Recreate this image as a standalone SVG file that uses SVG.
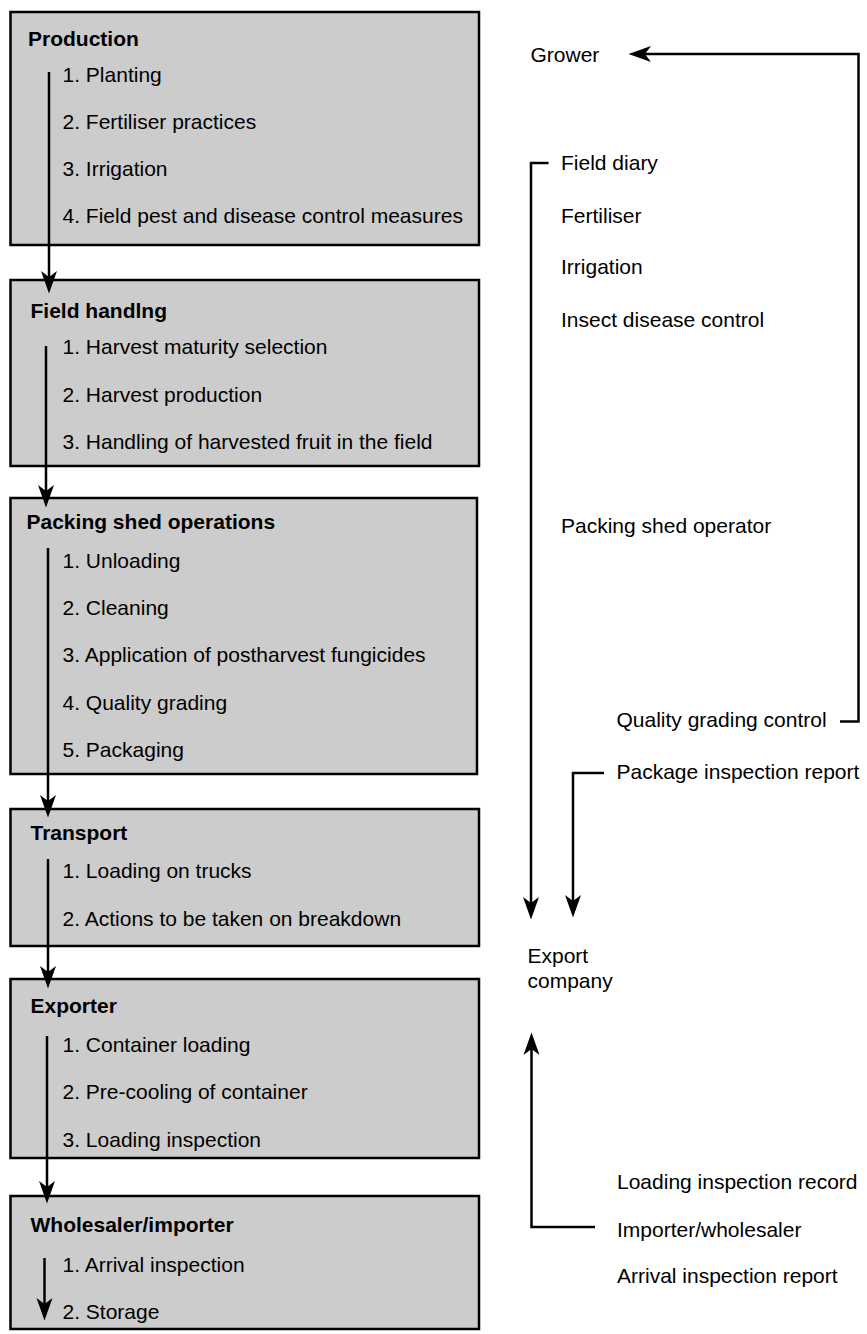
<svg xmlns="http://www.w3.org/2000/svg" width="867" height="1334" viewBox="0 0 867 1334">
  <style>
    .box { fill: #cccccc; stroke: #000000; stroke-width: 2.5; }
    .title { font-family: "Liberation Sans", Arial, Helvetica, sans-serif; font-size: 21px; font-weight: bold; fill: #000000; }
    .item { font-family: "Liberation Sans", Arial, Helvetica, sans-serif; font-size: 21px; fill: #000000; }
    .flow { fill: none; stroke: #000000; stroke-width: 2.5; stroke-linejoin: miter; }
  </style>
  <defs>
    <marker id="head" markerUnits="userSpaceOnUse" markerWidth="23" markerHeight="17" viewBox="0 0 23 17" refX="7" refY="8.5" orient="auto">
      <path d="M0,0.5 L22.5,8.5 L0,16.5 L6,8.5 Z" fill="#000000"/>
    </marker>
  </defs>

  <rect width="867" height="1334" fill="#ffffff"/>

  <!-- stage boxes -->
  <g id="production">
    <rect class="box" x="10.5" y="12" width="468.5" height="233"/>
    <text class="title" x="28" y="45.5">Production</text>
    <text class="item" x="62.5" y="81.5">1. Planting</text>
    <text class="item" x="62.5" y="128.5">2. Fertiliser practices</text>
    <text class="item" x="62.5" y="175.5">3. Irrigation</text>
    <text class="item" x="62.5" y="222.5">4. Field pest and disease control measures</text>
  </g>

  <g id="field-handling">
    <rect class="box" x="10.5" y="280" width="468.5" height="186"/>
    <text class="title" x="30.5" y="318">Field handlng</text>
    <text class="item" x="62.5" y="354">1. Harvest maturity selection</text>
    <text class="item" x="62.5" y="401.5">2. Harvest production</text>
    <text class="item" x="62.5" y="448.5">3. Handling of harvested fruit in the field</text>
  </g>

  <g id="packing-shed">
    <rect class="box" x="10.5" y="498" width="466.5" height="276"/>
    <text class="title" x="26.5" y="529">Packing shed operations</text>
    <text class="item" x="62.5" y="567.5">1. Unloading</text>
    <text class="item" x="62.5" y="614.5">2. Cleaning</text>
    <text class="item" x="62.5" y="662">3. Application of postharvest fungicides</text>
    <text class="item" x="62.5" y="709.5">4. Quality grading</text>
    <text class="item" x="62.5" y="757">5. Packaging</text>
  </g>

  <g id="transport">
    <rect class="box" x="10.5" y="809" width="468.5" height="137"/>
    <text class="title" x="30.5" y="840">Transport</text>
    <text class="item" x="62.5" y="878">1. Loading on trucks</text>
    <text class="item" x="62.5" y="925.5">2. Actions to be taken on breakdown</text>
  </g>

  <g id="exporter">
    <rect class="box" x="10.5" y="979" width="468.5" height="179"/>
    <text class="title" x="30.5" y="1013">Exporter</text>
    <text class="item" x="62.5" y="1051.5">1. Container loading</text>
    <text class="item" x="62.5" y="1099">2. Pre-cooling of container</text>
    <text class="item" x="62.5" y="1146.5">3. Loading inspection</text>
  </g>

  <g id="wholesaler">
    <rect class="box" x="10.5" y="1196" width="468.5" height="133"/>
    <text class="title" x="30.5" y="1232">Wholesaler/importer</text>
    <text class="item" x="62.5" y="1271.5">1. Arrival inspection</text>
    <text class="item" x="62.5" y="1319">2. Storage</text>
  </g>

  <!-- record-keeping parties and documents -->
  <g id="grower">
    <text class="item" x="530.5" y="62">Grower</text>
  </g>
  <g id="grower-records">
    <text class="item" x="561" y="170">Field diary</text>
    <text class="item" x="561" y="222.5">Fertiliser</text>
    <text class="item" x="561" y="274">Irrigation</text>
    <text class="item" x="561" y="327">Insect disease control</text>
  </g>
  <g id="packing-shed-operator">
    <text class="item" x="561" y="533">Packing shed operator</text>
  </g>
  <g id="quality-grading-control">
    <text class="item" x="616.5" y="726.5">Quality grading control</text>
  </g>
  <g id="package-inspection-report">
    <text class="item" x="616.5" y="779">Package inspection report</text>
  </g>
  <g id="export-company">
    <text class="item" x="527.5" y="962.5">Export</text>
    <text class="item" x="527.5" y="988">company</text>
  </g>
  <g id="importer-records">
    <text class="item" x="617" y="1189">Loading inspection record</text>
    <text class="item" x="617" y="1237">Importer/wholesaler</text>
    <text class="item" x="617" y="1283">Arrival inspection report</text>
  </g>

  <!-- connectors -->
  <g id="connectors">
    <line class="flow" x1="49" y1="72" x2="49" y2="278" marker-end="url(#head)"/>
    <line class="flow" x1="46" y1="346" x2="46" y2="492" marker-end="url(#head)"/>
    <line class="flow" x1="48" y1="548" x2="48" y2="802" marker-end="url(#head)"/>
    <line class="flow" x1="48" y1="859" x2="48" y2="973" marker-end="url(#head)"/>
    <line class="flow" x1="47" y1="1036" x2="47" y2="1188" marker-end="url(#head)"/>
    <line class="flow" x1="44.5" y1="1258" x2="44.5" y2="1305" marker-end="url(#head)"/>

    <path class="flow" d="M840,721.5 H858.5 V54 H644" marker-end="url(#head)"/>
    <path class="flow" d="M548.5,163 H531 V904" marker-end="url(#head)"/>
    <path class="flow" d="M604,773 H573 V902" marker-end="url(#head)"/>
    <path class="flow" d="M595,1227 H531.5 V1048" marker-end="url(#head)"/>
  </g>
</svg>
